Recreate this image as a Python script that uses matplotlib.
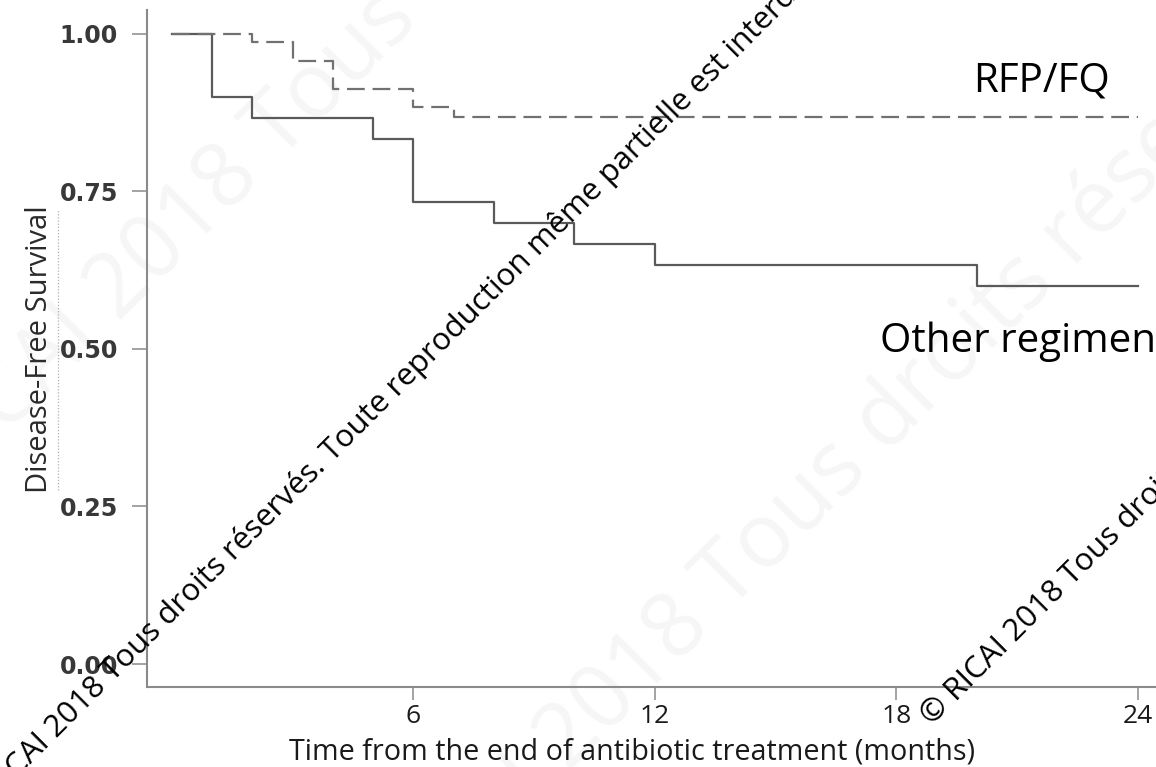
import numpy as np
import matplotlib.pyplot as plt
from matplotlib.lines import Line2D

# Kaplan-Meier steps, time in months
t_other = [0, 1, 2, 5, 6, 8, 10, 12, 20, 24]
s_other = [1.0, 0.900, 0.867, 0.833, 0.733, 0.700, 0.667, 0.633, 0.600, 0.600]

t_rfp = [0, 2, 3, 4, 6, 7, 24]
s_rfp = [1.0, 0.987, 0.957, 0.913, 0.884, 0.868, 0.868]

xticks = [6, 12, 18, 24]
yticks = [0.0, 0.25, 0.50, 0.75, 1.00]
ytick_labels = ['0.00', '0.25', '0.50', '0.75', '1.00']

notice = u'\u00a9 RICAI 2018 Tous droits r\u00e9serv\u00e9s. Toute reproduction m\u00eame partielle est interdite.'

W, H = 1156, 767
fig = plt.figure(figsize=(W / 100, H / 100), dpi=100)
ax = fig.add_axes([147 / W, 80 / H, (1200 - 147) / W, 677 / H])

axis_grey = '#8a8a8a'

# faint background watermark rows, behind everything
for x0, y0 in [(-120, 560), (330, 1010)]:
    fig.text(x0 / W, 1 - y0 / H, notice, rotation=45, rotation_mode='anchor',
             ha='left', va='baseline', fontsize=64, family='Open Sans',
             color='#f6f6f6', zorder=-1)

ax.step(t_other, s_other, where='post', color='#5a5a5a', lw=1.6)
ax.step(t_rfp, s_rfp, where='post', color='#717171', lw=1.6, ls=(0, (8, 3.5)))

ax.set_xlim(-0.62, (1200 - 172) / 40.25)
ax.set_ylim(-0.0365, 1.038)
ax.patch.set_alpha(0)

ax.set_xticks(xticks)
ax.set_xticklabels([str(v) for v in xticks], family='Open Sans', fontsize=19,
                   color='#1a1a1a')
ax.set_yticks(yticks)
ax.set_yticklabels(ytick_labels, family='DejaVu Sans', fontsize=17,
                   fontweight='bold', color='#383838')

ax.tick_params(axis='y', direction='out', length=11, width=1.1, color=axis_grey, pad=10)
ax.tick_params(axis='x', direction='out', length=9, width=1.1, color=axis_grey, pad=3)

for side in ['top', 'right']:
    ax.spines[side].set_visible(False)
for side in ['left', 'bottom']:
    ax.spines[side].set_color(axis_grey)
    ax.spines[side].set_linewidth(1.5)

fig.text(632 / W, 1 - 752 / H, 'Time from the end of antibiotic treatment (months)',
         ha='center', va='center', family='Open Sans', fontsize=20.7, color='#1a1a1a')
fig.text(40 / W, 1 - 349 / H, 'Disease-Free Survival', rotation=90,
         ha='center', va='center', family=['Liberation Sans Narrow', 'Open Sans'],
         fontsize=21, color='#2a2a2a')
# dotted underline next to the y label
fig.add_artist(Line2D([58 / W, 58 / W], [1 - 490 / H, 1 - 210 / H], color='#b0b0b0',
                      lw=0.9, ls=(0, (1, 1.5))))

# curve labels
ax.text((973 - 172) / 40.25, (664 - 92) / 630, 'RFP/FQ', ha='left', va='baseline',
        family='Open Sans', fontsize=29, color='black')
ax.text((880 - 172) / 40.25, (664 - 352) / 630, 'Other regimen', ha='left', va='baseline',
        family='Open Sans', fontsize=29, color='black')

# copyright notice across the chart
for x0, y0 in [(-27, 822), (932, 726)]:
    fig.text(x0 / W, 1 - y0 / H, notice, rotation=45, rotation_mode='anchor',
             ha='left', va='baseline', fontsize=22.5, family='Open Sans',
             color='black', zorder=10)

plt.savefig('out.png', dpi=100)
